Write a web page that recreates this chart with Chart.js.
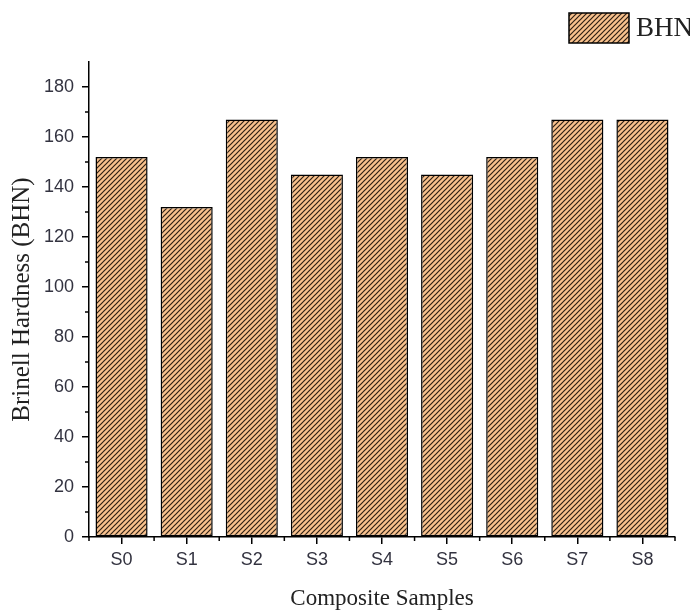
<!DOCTYPE html>
<html>
<head>
<meta charset="utf-8">
<script src="https://cdn.jsdelivr.net/npm/chart.js@4/dist/chart.umd.min.js"></script>
<style>
  html, body { margin: 0; padding: 0; background: #fff; overflow: hidden; }
  #wrap { width: 690px; height: 614px; }
</style>
</head>
<body>
<div id="wrap"><canvas id="chart"></canvas></div>
<script>
// data
const samples = ['S0', 'S1', 'S2', 'S3', 'S4', 'S5', 'S6', 'S7', 'S8'];
const bhn = [152, 132, 167, 145, 152, 145, 152, 167, 167];
const yMinor = [10, 30, 50, 70, 90, 110, 130, 150, 170];

const tan = '#F8C18D';
const stripe = '#2e2014';

// hatch pattern for the bars
function hatch() {
    var s = 5;
    var c = document.createElement('canvas');
    c.width = s; c.height = s;
    var g = c.getContext('2d');
    g.fillStyle = tan;
    g.fillRect(0, 0, s, s);
    g.strokeStyle = stripe;
    g.lineWidth = 1.2;
    g.beginPath();
    g.moveTo(-1, 1); g.lineTo(1, -1);
    g.moveTo(0, s); g.lineTo(s, 0);
    g.moveTo(s - 1, s + 1); g.lineTo(s + 1, s - 1);
    g.stroke();
    return g.createPattern(c, 'repeat');
}
const pattern = hatch();

// minor ticks + legend box in the corner
const extras = {
    id: 'extras',
    afterDraw(chart) {
        const ctx = chart.ctx;
        const x = chart.scales.x, y = chart.scales.y;
        ctx.save();
        ctx.strokeStyle = '#000';
        ctx.lineWidth = 1.5;
        ctx.beginPath();
        for (let i = 0; i <= samples.length; i++) {
            const px = x.getPixelForValue(i - 0.5);
            ctx.moveTo(px, y.bottom);
            ctx.lineTo(px, y.bottom + 4);
        }
        yMinor.forEach(v => {
            const py = y.getPixelForValue(v);
            ctx.moveTo(x.left, py);
            ctx.lineTo(x.left - 4, py);
        });
        ctx.stroke();

        // legend
        const ds = chart.data.datasets[0];
        ctx.fillStyle = ds.backgroundColor;
        ctx.fillRect(569, 13, 60, 30);
        ctx.strokeStyle = '#000';
        ctx.lineWidth = 1.5;
        ctx.strokeRect(569, 13, 60, 30);
        ctx.fillStyle = '#222';
        ctx.font = '27px "Liberation Serif", "Times New Roman", serif';
        ctx.textBaseline = 'middle';
        ctx.fillText(ds.label, 636, 29);
        ctx.restore();
    }
};

const tickFont = { family: '"Liberation Sans", Arial, sans-serif', size: 18 };
const titleFont = { family: '"Liberation Serif", "Times New Roman", serif', size: 25 };

new Chart(document.getElementById('chart'), {
    type: 'bar',
    data: {
        labels: samples,
        datasets: [{
            label: 'BHN',
            data: bhn,
            backgroundColor: pattern,
            borderColor: '#000',
            borderWidth: 1.5,
            borderSkipped: false,
            barPercentage: 0.8,
            categoryPercentage: 1.0
        }]
    },
    options: {
        responsive: true,
        maintainAspectRatio: false,
        animation: false,
        layout: { padding: { top: 62, right: 15, left: 0, bottom: 0 } },
        plugins: { legend: { display: false }, tooltip: { enabled: false } },
        scales: {
            x: {
                afterFit(scale) { scale.height = 77; },
                grid: { offset: false, drawOnChartArea: false, tickLength: 7, tickColor: '#000', lineWidth: 1.5 },
                border: { color: '#000', width: 1.5 },
                ticks: { color: '#333340', font: tickFont, padding: 5, maxRotation: 0 },
                title: { display: true, text: 'Composite Samples', color: '#222',
                         font: { family: titleFont.family, size: 23 }, padding: { top: 0, bottom: 1 } }
            },
            y: {
                min: 0,
                max: 190,
                afterFit(scale) { scale.width = 89; },
                grid: { drawOnChartArea: false, tickLength: 7, tickColor: '#000', lineWidth: 1.5 },
                border: { color: '#000', width: 1.5 },
                ticks: { stepSize: 20, includeBounds: false, color: '#333340', font: tickFont, padding: 8 },
                title: { display: true, text: 'Brinell Hardness (BHN)', color: '#222',
                         font: titleFont, padding: { top: 7, bottom: 0 } }
            }
        }
    },
    plugins: [extras]
});
</script>
</body>
</html>
